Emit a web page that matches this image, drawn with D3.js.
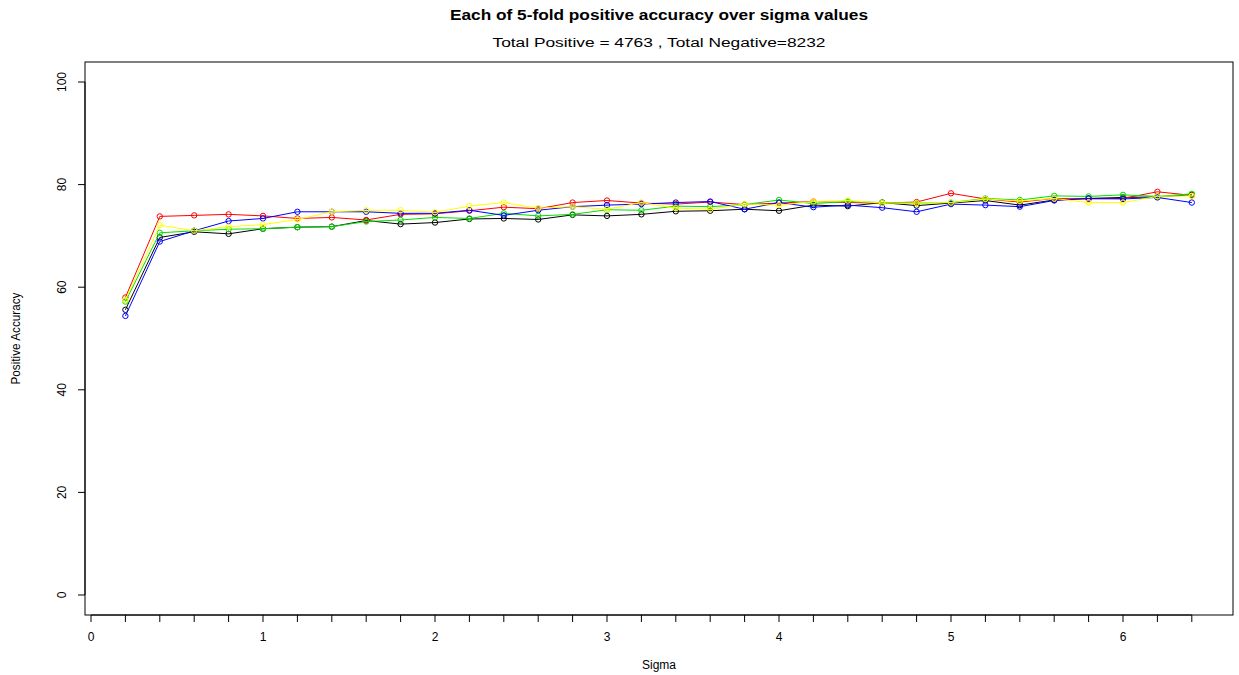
<!DOCTYPE html>
<html>
<head>
<meta charset="utf-8">
<script src="https://cdn.jsdelivr.net/npm/d3@7"></script>
<style>
  html, body { margin: 0; padding: 0; background: #fff; }
  svg { display: block; font-family: "Liberation Sans", Arial, sans-serif; }
</style>
</head>
<body>
<svg id="chart" width="1239" height="675"></svg>
<script>
// Sigma values tested in the 5-fold cross validation
const sigma = [0.2, 0.4, 0.6, 0.8, 1.0, 1.2, 1.4, 1.6, 1.8, 2.0, 2.2, 2.4, 2.6, 2.8, 3.0, 3.2,
               3.4, 3.6, 3.8, 4.0, 4.2, 4.4, 4.6, 4.8, 5.0, 5.2, 5.4, 5.6, 5.8, 6.0, 6.2, 6.4];

// Positive accuracy (%) for each fold
const fold1 = [55.6, 69.7, 70.8, 70.4, 71.4, 71.7, 71.8, 73.0, 72.3, 72.6, 73.3, 73.4, 73.2, 74.1, 73.9, 74.2,
               74.8, 74.9, 75.2, 74.9, 76.0, 75.8, 76.5, 75.9, 76.4, 76.9, 76.0, 77.0, 77.3, 77.5, 77.6, 78.0];
const fold2 = [58.0, 73.8, 74.0, 74.2, 73.9, 73.4, 73.6, 73.1, 74.2, 74.3, 74.9, 75.6, 75.3, 76.5, 76.9, 76.4,
               76.2, 76.6, 76.1, 76.4, 76.7, 76.5, 76.4, 76.6, 78.3, 77.2, 76.6, 77.3, 77.2, 77.3, 78.6, 77.9];
const fold3 = [57.2, 70.6, 71.0, 71.3, 71.4, 71.7, 71.8, 72.8, 73.1, 73.6, 73.4, 74.4, 73.9, 74.2, 75.1, 75.0,
               75.8, 75.7, 76.1, 77.0, 76.3, 76.7, 76.5, 76.4, 76.5, 77.3, 77.0, 77.8, 77.7, 78.0, 77.7, 78.2];
const fold4 = [54.4, 68.9, 71.0, 72.9, 73.4, 74.7, 74.7, 74.7, 74.4, 74.4, 75.0, 74.0, 75.0, 75.7, 76.0, 76.2,
               76.5, 76.7, 75.2, 76.5, 75.6, 76.0, 75.5, 74.7, 76.2, 76.0, 75.7, 76.9, 77.3, 77.2, 77.5, 76.5];
const fold5 = [57.5, 72.1, 71.0, 71.8, 72.2, 73.2, 74.7, 75.0, 75.0, 74.6, 75.8, 76.5, 75.4, 75.7, 75.2, 76.5,
               75.4, 75.2, 76.2, 76.0, 76.7, 76.9, 76.4, 76.4, 76.5, 77.2, 76.8, 77.3, 76.5, 76.5, 77.7, 77.8];

const foldColors = ["#000000", "#ff0000", "#00e000", "#0000ff", "#ffff00"];
const folds = [fold1, fold2, fold3, fold4, fold5];

const xTicks = d3.range(0, 6.41, 0.2).map(v => +v.toFixed(1));
const xLabels = [0, 1, 2, 3, 4, 5, 6];
const yTicks = [0, 20, 40, 60, 80, 100];

const titleText = "Each of 5-fold positive accuracy over sigma values";
const subtitleText = "Total Positive = 4763 , Total Negative=8232";

// Plot frame
const box = { left: 85, top: 62, right: 1233, bottom: 615 };

const svg = d3.select("#chart");

const x = d3.scaleLinear().domain([0, 6]).range([91, 1123]);
const y = d3.scaleLinear().domain([0, 100]).range([595, 82]);

// Box around the plotting region
svg.append("rect")
  .attr("x", box.left).attr("y", box.top)
  .attr("width", box.right - box.left).attr("height", box.bottom - box.top)
  .attr("fill", "none").attr("stroke", "#000").attr("stroke-width", 1);

// X axis: minor ticks every 0.2, labels at whole numbers
const gx = svg.append("g").attr("transform", `translate(0,${box.bottom})`);
gx.selectAll("line").data(xTicks).join("line")
  .attr("x1", d => x(d)).attr("x2", d => x(d))
  .attr("y1", 0).attr("y2", 7)
  .attr("stroke", "#000").attr("stroke-width", 1);
gx.append("line")
  .attr("x1", x(0)).attr("x2", x(6.4)).attr("y1", 0).attr("y2", 0)
  .attr("stroke", "#000");
gx.selectAll("text").data(xLabels).join("text")
  .attr("x", d => x(d)).attr("y", 26)
  .attr("text-anchor", "middle")
  .attr("font-size", 12)
  .text(d => d);

// Y axis with rotated labels
const gy = svg.append("g").attr("transform", `translate(${box.left},0)`);
gy.selectAll("line").data(yTicks).join("line")
  .attr("x1", 0).attr("x2", -7)
  .attr("y1", d => y(d)).attr("y2", d => y(d))
  .attr("stroke", "#000");
gy.append("line")
  .attr("x1", 0).attr("x2", 0).attr("y1", y(0)).attr("y2", y(100))
  .attr("stroke", "#000");
gy.selectAll("text").data(yTicks).join("text")
  .attr("transform", d => `translate(-19,${y(d)}) rotate(-90)`)
  .attr("text-anchor", "middle")
  .attr("font-size", 12)
  .text(d => d);

// Series lines and open-circle markers
const line = d3.line().x((d, i) => x(sigma[i])).y(d => y(d));
folds.forEach((vals, k) => {
  const g = svg.append("g");
  g.append("path")
    .datum(vals)
    .attr("d", line)
    .attr("fill", "none")
    .attr("stroke", foldColors[k])
    .attr("stroke-width", 1);
  g.selectAll("circle").data(vals).join("circle")
    .attr("cx", (d, i) => x(sigma[i]))
    .attr("cy", d => y(d))
    .attr("r", 2.7)
    .attr("fill", "none")
    .attr("stroke", foldColors[k])
    .attr("stroke-width", 1);
});

// Titles
svg.append("text")
  .attr("x", (box.left + box.right) / 2).attr("y", 20)
  .attr("text-anchor", "middle")
  .attr("font-weight", "bold")
  .attr("font-size", 14)
  .attr("textLength", 418).attr("lengthAdjust", "spacingAndGlyphs")
  .text(titleText);

svg.append("text")
  .attr("x", (box.left + box.right) / 2).attr("y", 47)
  .attr("text-anchor", "middle")
  .attr("font-size", 12)
  .attr("textLength", 333).attr("lengthAdjust", "spacingAndGlyphs")
  .text(subtitleText);

// Axis titles
svg.append("text")
  .attr("x", (box.left + box.right) / 2).attr("y", 669)
  .attr("text-anchor", "middle")
  .attr("font-size", 12)
  .text("Sigma");

svg.append("text")
  .attr("transform", `translate(20,${(y(0) + y(100)) / 2}) rotate(-90)`)
  .attr("text-anchor", "middle")
  .attr("font-size", 12)
  .attr("textLength", 92).attr("lengthAdjust", "spacingAndGlyphs")
  .text("Positive Accuracy");
</script>
</body>
</html>
